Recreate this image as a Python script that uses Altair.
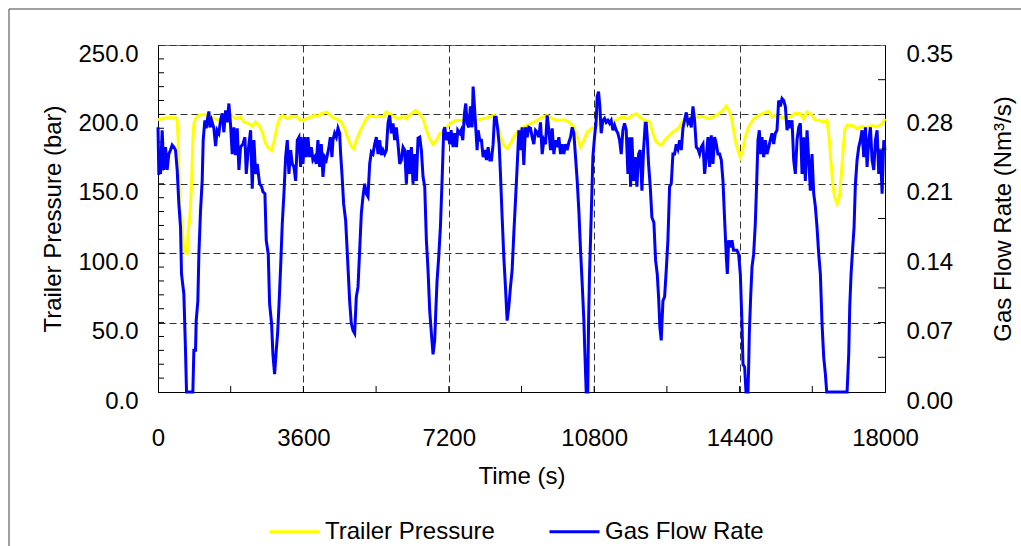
import altair as alt
import pandas as pd

# ---------------- data ----------------
pressure_time_s = [0, 200, 434, 475, 500, 533, 599, 640, 680, 723, 747, 789, 830, 863, 888, 929, 1012, 1136, 1300, 1507,
                   1673, 1838, 1920, 2044, 2127, 2251, 2333, 2416, 2499, 2581, 2664, 2746, 2812, 2870, 2953, 3011, 3077,
                   3201, 3325, 3449, 3506, 3589, 3671, 3754, 3878, 3960, 4043, 4167, 4249, 4332, 4456, 4539, 4621, 4704,
                   4786, 4844, 4910, 4993, 5075, 5158, 5241, 5365, 5488, 5571, 5654, 5736, 5819, 5943, 6067, 6149, 6273,
                   6380, 6480, 6579, 6645, 6727, 6810, 6893, 6975, 7075, 7158, 7282, 7405, 7529, 7653, 7777, 7901, 8025,
                   8149, 8314, 8397, 8479, 8562, 8644, 8727, 8810, 8892, 9016, 9140, 9264, 9388, 9512, 9636, 9760, 9883,
                   10049, 10173, 10296, 10379, 10462, 10544, 10627, 10726, 10808, 10891, 11015, 11139, 11263, 11386,
                   11510, 11634, 11758, 11841, 11923, 12047, 12171, 12254, 12336, 12460, 12543, 12625, 12749, 12873,
                   12956, 13038, 13121, 13245, 13369, 13493, 13617, 13741, 13864, 13988, 14071, 14154, 14211, 14252,
                   14294, 14360, 14418, 14475, 14541, 14624, 14748, 14872, 14996, 15120, 15202, 15285, 15409, 15533,
                   15657, 15780, 15904, 15987, 16070, 16177, 16276, 16375, 16483, 16565, 16623, 16672, 16714, 16755,
                   16813, 16871, 16920, 16962, 17003, 17061, 17185, 17309, 17432, 17556, 17680, 17804, 17928, 18000]
pressure_bar = [196.2, 197.6, 197.6, 196.2, 181.3, 135.6, 118.8, 101.9, 100.0, 100.0, 115.2, 126.0, 150.0, 181.3, 193.3,
                196.9, 199.3, 200.0, 198.1, 195.7, 194.5, 198.6, 196.9, 198.1, 194.5, 193.3, 191.4, 194.5, 192.1, 187.3,
                178.9, 175.3, 174.0, 180.1, 192.1, 196.9, 199.3, 196.9, 198.6, 198.1, 196.2, 195.7, 196.9, 197.6, 199.3,
                198.6, 200.5, 201.7, 200.0, 197.6, 196.2, 194.5, 189.7, 182.5, 176.9, 175.3, 181.3, 187.3, 192.1, 196.9,
                199.3, 198.1, 198.6, 198.1, 201.7, 200.5, 198.6, 196.9, 198.6, 196.9, 200.5, 202.9, 200.5, 195.7, 188.5,
                182.5, 178.4, 181.3, 186.1, 187.3, 190.9, 194.5, 195.7, 195.7, 194.5, 193.3, 195.7, 196.9, 197.6, 199.3,
                194.5, 183.7, 177.7, 175.3, 178.9, 183.7, 187.3, 190.4, 192.1, 193.8, 195.7, 198.1, 199.3, 196.9, 195.7,
                196.2, 194.5, 190.9, 183.7, 176.5, 181.3, 187.3, 189.7, 190.9, 192.1, 195.7, 195.7, 194.5, 196.9, 198.1,
                196.9, 199.3, 200.5, 198.1, 195.7, 194.5, 186.1, 180.1, 177.7, 181.3, 183.7, 187.3, 189.7, 193.3, 196.9,
                198.6, 196.9, 198.1, 198.6, 196.9, 198.1, 200.0, 202.9, 205.8, 201.7, 195.7, 188.5, 181.3, 174.0, 169.2,
                174.0, 183.7, 190.9, 196.9, 199.3, 201.0, 202.4, 198.1, 199.3, 197.6, 197.6, 198.1, 201.0, 200.5, 196.9,
                201.7, 200.0, 195.7, 195.7, 194.5, 195.7, 181.3, 162.0, 147.6, 140.4, 135.6, 140.4, 157.2, 174.0, 188.5,
                192.1, 192.1, 189.7, 191.4, 189.7, 192.1, 190.9, 193.3, 196.9]

flow_time_s = [0, 21, 45, 62, 103, 145, 186, 227, 268, 310, 351, 392, 434, 475, 516, 558, 582, 640, 681, 706, 863, 888,
               929, 946, 987, 1012, 1053, 1094, 1119, 1160, 1194, 1218, 1260, 1284, 1326, 1384, 1425, 1466, 1507, 1549,
               1590, 1631, 1673, 1714, 1755, 1797, 1838, 1879, 1920, 1962, 2003, 2044, 2102, 2152, 2185, 2234, 2292,
               2333, 2375, 2416, 2457, 2515, 2565, 2598, 2647, 2680, 2730, 2763, 2812, 2845, 2887, 2928, 2961, 2994,
               3036, 3077, 3118, 3160, 3201, 3242, 3284, 3325, 3366, 3408, 3449, 3490, 3532, 3547, 3589, 3630, 3671,
               3713, 3754, 3795, 3836, 3878, 3919, 3960, 4002, 4043, 4084, 4126, 4167, 4233, 4266, 4307, 4332, 4373,
               4415, 4456, 4497, 4522, 4555, 4596, 4646, 4704, 4745, 4786, 4828, 4869, 4910, 4952, 4993, 5034, 5075,
               5117, 5158, 5199, 5241, 5282, 5323, 5365, 5406, 5447, 5488, 5530, 5571, 5612, 5654, 5695, 5736, 5778,
               5819, 5860, 5901, 5943, 5984, 6025, 6067, 6108, 6149, 6191, 6232, 6273, 6314, 6356, 6397, 6438, 6480,
               6521, 6562, 6604, 6645, 6686, 6727, 6769, 6810, 6851, 6876, 6909, 6950, 6992, 7033, 7074, 7100, 7141,
               7174, 7224, 7257, 7306, 7339, 7389, 7422, 7471, 7505, 7546, 7587, 7620, 7653, 7695, 7736, 7777, 7802,
               7835, 7868, 7901, 7926, 7967, 8008, 8050, 8091, 8132, 8174, 8215, 8256, 8297, 8331, 8372, 8413, 8446,
               8479, 8521, 8562, 8603, 8644, 8686, 8727, 8768, 8810, 8851, 8892, 8934, 8975, 9016, 9057, 9099, 9140,
               9181, 9223, 9264, 9305, 9347, 9388, 9429, 9470, 9512, 9553, 9594, 9636, 9677, 9718, 9760, 9801, 9842,
               9883, 9925, 9966, 10007, 10049, 10090, 10131, 10173, 10214, 10255, 10296, 10338, 10379, 10420, 10462,
               10503, 10544, 10569, 10602, 10640, 10660, 10684, 10709, 10742, 10767, 10808, 10850, 10874, 10907, 10940,
               10973, 11015, 11056, 11097, 11139, 11180, 11221, 11263, 11304, 11345, 11386, 11428, 11469, 11510, 11552,
               11593, 11634, 11676, 11700, 11733, 11775, 11816, 11857, 11899, 11940, 11981, 12022, 12064, 12089, 12113,
               12146, 12188, 12229, 12278, 12320, 12361, 12394, 12427, 12460, 12502, 12543, 12584, 12625, 12667, 12708,
               12749, 12791, 12832, 12873, 12915, 12956, 12997, 13038, 13080, 13121, 13162, 13204, 13245, 13286, 13328,
               13369, 13410, 13451, 13493, 13534, 13575, 13617, 13658, 13699, 13741, 13782, 13823, 13864, 13906, 13947,
               13988, 14030, 14071, 14096, 14129, 14178, 14211, 14250, 14335, 14376, 14418, 14459, 14484, 14525, 14558,
               14607, 14624, 14641, 14674, 14707, 14748, 14789, 14822, 14855, 14888, 14921, 14954, 14996, 15037, 15078,
               15120, 15161, 15202, 15244, 15285, 15326, 15367, 15409, 15450, 15491, 15533, 15574, 15615, 15657, 15698,
               15739, 15780, 15822, 15863, 15904, 15946, 15987, 16028, 16070, 16111, 16152, 16193, 16235, 16276, 16317,
               16359, 16400, 16441, 16483, 16524, 16557, 17061, 17102, 17127, 17160, 17201, 17234, 17267, 17309, 17350,
               17391, 17432, 17474, 17515, 17556, 17598, 17639, 17680, 17722, 17763, 17804, 17846, 17887, 17928, 17970,
               18000]
flow_nm3_s = [0.267, 0.219, 0.244, 0.220, 0.264, 0.224, 0.247, 0.224, 0.240, 0.244, 0.249, 0.247, 0.244, 0.224, 0.190,
              0.166, 0.119, 0.099, 0.042, 0.000, 0.000, 0.042, 0.042, 0.072, 0.092, 0.139, 0.183, 0.213, 0.254, 0.274,
              0.266, 0.274, 0.283, 0.267, 0.274, 0.266, 0.248, 0.264, 0.261, 0.274, 0.281, 0.262, 0.284, 0.272, 0.291,
              0.269, 0.240, 0.267, 0.239, 0.266, 0.224, 0.247, 0.250, 0.257, 0.220, 0.244, 0.264, 0.205, 0.254, 0.220,
              0.230, 0.210, 0.207, 0.202, 0.200, 0.153, 0.139, 0.089, 0.069, 0.038, 0.018, 0.042, 0.059, 0.086, 0.126,
              0.170, 0.200, 0.237, 0.254, 0.220, 0.244, 0.230, 0.227, 0.213, 0.254, 0.257, 0.227, 0.257, 0.230, 0.257,
              0.237, 0.257, 0.237, 0.247, 0.234, 0.237, 0.230, 0.254, 0.227, 0.250, 0.217, 0.237, 0.234, 0.247, 0.257,
              0.237, 0.254, 0.261, 0.257, 0.266, 0.261, 0.240, 0.220, 0.190, 0.173, 0.126, 0.092, 0.069, 0.062, 0.059,
              0.096, 0.106, 0.143, 0.180, 0.197, 0.210, 0.200, 0.197, 0.230, 0.242, 0.240, 0.250, 0.257, 0.240, 0.254,
              0.239, 0.244, 0.240, 0.244, 0.271, 0.279, 0.261, 0.271, 0.254, 0.267, 0.250, 0.230, 0.234, 0.247, 0.244,
              0.210, 0.244, 0.220, 0.247, 0.210, 0.240, 0.213, 0.256, 0.257, 0.244, 0.217, 0.207, 0.153, 0.123, 0.082,
              0.059, 0.038, 0.052, 0.079, 0.112, 0.136, 0.166, 0.213, 0.264, 0.267, 0.254, 0.262, 0.250, 0.264, 0.247,
              0.261, 0.247, 0.264, 0.261, 0.264, 0.254, 0.281, 0.291, 0.271, 0.267, 0.288, 0.267, 0.308, 0.288, 0.266,
              0.244, 0.264, 0.254, 0.254, 0.237, 0.244, 0.234, 0.247, 0.234, 0.234, 0.250, 0.277, 0.277, 0.264, 0.250,
              0.220, 0.176, 0.136, 0.106, 0.072, 0.086, 0.106, 0.123, 0.160, 0.193, 0.227, 0.264, 0.244, 0.267, 0.229,
              0.267, 0.257, 0.267, 0.266, 0.257, 0.250, 0.264, 0.262, 0.257, 0.272, 0.240, 0.254, 0.250, 0.279, 0.264,
              0.244, 0.266, 0.240, 0.254, 0.247, 0.257, 0.240, 0.250, 0.240, 0.250, 0.244, 0.252, 0.257, 0.267, 0.261,
              0.237, 0.213, 0.183, 0.143, 0.109, 0.072, 0.040, 0.000, 0.000, 0.069, 0.119, 0.153, 0.200, 0.237, 0.257,
              0.274, 0.298, 0.303, 0.288, 0.261, 0.274, 0.276, 0.272, 0.274, 0.271, 0.274, 0.264, 0.269, 0.264, 0.261,
              0.254, 0.240, 0.264, 0.271, 0.264, 0.220, 0.257, 0.207, 0.257, 0.213, 0.237, 0.207, 0.240, 0.244, 0.203,
              0.244, 0.271, 0.271, 0.257, 0.230, 0.207, 0.176, 0.171, 0.133, 0.119, 0.096, 0.065, 0.052, 0.092, 0.096,
              0.123, 0.153, 0.207, 0.210, 0.240, 0.240, 0.250, 0.245, 0.254, 0.244, 0.266, 0.274, 0.282, 0.271, 0.274,
              0.267, 0.288, 0.274, 0.247, 0.245, 0.240, 0.247, 0.250, 0.220, 0.237, 0.257, 0.227, 0.259, 0.230, 0.257,
              0.250, 0.240, 0.240, 0.234, 0.213, 0.173, 0.136, 0.119, 0.153, 0.146, 0.153, 0.143, 0.143, 0.139, 0.119,
              0.069, 0.028, 0.025, 0.000, 0.000, 0.025, 0.059, 0.096, 0.126, 0.139, 0.170, 0.210, 0.254, 0.264, 0.240,
              0.257, 0.237, 0.254, 0.240, 0.247, 0.254, 0.261, 0.250, 0.261, 0.264, 0.294, 0.288, 0.296, 0.294, 0.288,
              0.264, 0.274, 0.266, 0.274, 0.234, 0.220, 0.254, 0.267, 0.271, 0.220, 0.257, 0.213, 0.264, 0.234, 0.203,
              0.240, 0.200, 0.187, 0.166, 0.139, 0.119, 0.069, 0.035, 0.018, 0.000, 0.000, 0.038, 0.086, 0.119, 0.146,
              0.166, 0.210, 0.234, 0.247, 0.254, 0.264, 0.237, 0.267, 0.227, 0.254, 0.267, 0.234, 0.224, 0.254, 0.264,
              0.220, 0.244, 0.200, 0.254, 0.244]

series_names = ["Trailer Pressure", "Gas Flow Rate"]
series_colors = ["#ffff00", "#0000ff"]

time_ticks = [0, 3600, 7200, 10800, 14400, 18000]
pressure_ticks = [0, 50, 100, 150, 200, 250]
flow_ticks = [0.0, 0.07, 0.14, 0.21, 0.28, 0.35]
time_minor = [1800, 3600, 5400, 7200, 9000, 10800, 12600, 14400, 16200]
pressure_minor = [10, 20, 30, 40, 50, 60, 70, 80, 90, 100, 110, 120, 130, 140, 150, 160, 170, 180, 190, 200, 210, 220,
                  230, 240]
flow_minor = [0.035, 0.07, 0.105, 0.14, 0.175, 0.21, 0.245, 0.28, 0.315]

# ---------------- layout / style ----------------
W, H = 727, 347
FONT = "Liberation Sans"
FS = 24

pressure_df = pd.DataFrame({"time": pressure_time_s, "pressure": pressure_bar, "series": series_names[0]})
flow_df = pd.DataFrame({"time": flow_time_s, "flow": flow_nm3_s, "series": series_names[1]})

x_enc = alt.X(
    "time:Q",
    scale=alt.Scale(domain=[0, 18000], nice=False, zero=False),
    axis=alt.Axis(values=time_ticks, format="d", title="Time (s)", grid=True, gridDash=[7, 4],
                  gridColor="#333333", gridOpacity=1, ticks=False, tickSize=0, domainColor="#000000",
                  labelPadding=34, titlePadding=14, labelFlush=False),
)
y_p = alt.Y(
    "pressure:Q",
    scale=alt.Scale(domain=[0, 250], nice=False, zero=True),
    axis=alt.Axis(orient="left", values=pressure_ticks, format=".1f", title="Trailer Pressure (bar)", grid=True,
                  gridDash=[7, 4], gridColor="#333333", gridOpacity=1, ticks=False, tickSize=0,
                  domainColor="#000000", labelPadding=20, labelOffset=9, titlePadding=12, labelFlush=False),
)
y_f = alt.Y(
    "flow:Q",
    scale=alt.Scale(domain=[0, 0.35], nice=False, zero=True),
    axis=alt.Axis(orient="right", values=flow_ticks, format=".2f", title="Gas Flow Rate (Nm³/s)", grid=False,
                  ticks=False, tickSize=0, domainColor="#000000", labelPadding=21, labelOffset=9,
                  labelFlush=False, titleAngle=270, titleX=118, titleY=H / 2, titleAlign="center",
                  titleBaseline="middle"),
)
color_enc = alt.Color(
    "series:N",
    scale=alt.Scale(domain=series_names, range=series_colors),
    legend=alt.Legend(title=None, orient="none", legendX=110, legendY=460, direction="horizontal",
                      symbolType="stroke", symbolSize=2500, symbolStrokeWidth=3, labelFont=FONT,
                      labelFontSize=FS, labelColor="#000000", labelOffset=4, labelLimit=0,
                      columnPadding=48, padding=0),
)

pressure_line = alt.Chart(pressure_df).mark_line(strokeWidth=3).encode(x=x_enc, y=y_p, color=color_enc)
left_ticks = alt.Chart(pd.DataFrame({"pressure": pressure_minor})).mark_rule(color="#000000").encode(
    y=y_p, x=alt.value(0), x2=alt.value(6))

flow_line = alt.Chart(flow_df).mark_line(strokeWidth=3).encode(x=x_enc, y=y_f, color=color_enc)
right_ticks = alt.Chart(pd.DataFrame({"flow": flow_minor})).mark_rule(color="#000000").encode(
    y=y_f, x=alt.value(W - 7), x2=alt.value(W))

bottom_ticks = alt.Chart(pd.DataFrame({"time": time_minor})).mark_rule(color="#000000").encode(
    x=x_enc, y=alt.value(H - 6), y2=alt.value(H))

frame_df = pd.DataFrame({"k": [0]})
frame_left = alt.Chart(frame_df).mark_rule(color="#404040").encode(
    x=alt.value(-149), y=alt.value(-36), y2=alt.value(H + 200))
frame_top = alt.Chart(frame_df).mark_rule(color="#404040").encode(
    y=alt.value(-36), x=alt.value(-149), x2=alt.value(W + 200))

chart = alt.layer(
    alt.layer(pressure_line, left_ticks),
    alt.layer(flow_line, right_ticks),
    bottom_ticks, frame_left, frame_top,
).resolve_scale(y="independent").properties(
    width=W, height=H,
    autosize=alt.AutoSizeParams(type="none"),
    padding={"left": 158, "top": 45, "right": 136, "bottom": 154},
    background="#ffffff",
).configure_view(stroke="#707070", strokeWidth=1).configure_axis(
    labelFont=FONT, titleFont=FONT, labelFontSize=FS, titleFontSize=FS, titleFontWeight="normal",
    labelColor="#000000", titleColor="#000000",
)

chart.save("out.html", embed_options={"renderer": "svg", "actions": False})
